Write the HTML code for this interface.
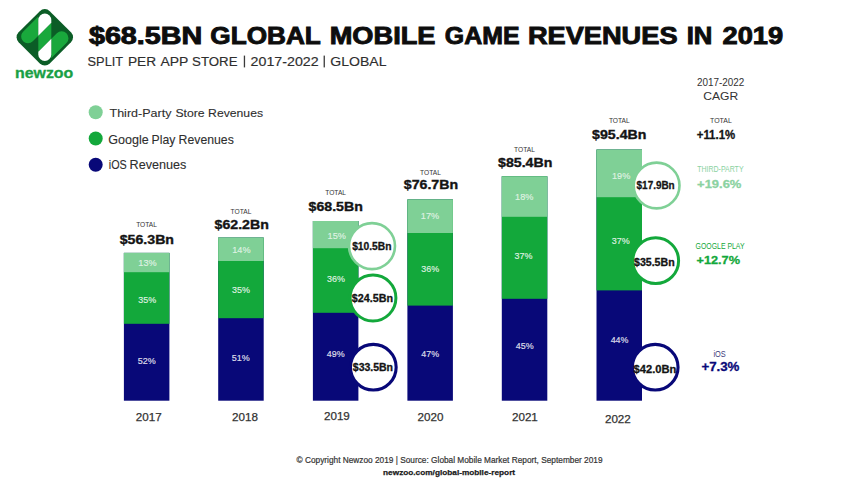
<!DOCTYPE html>
<html><head><meta charset="utf-8"><style>
html,body{margin:0;padding:0;background:#fff;}
body{width:842px;height:485px;position:relative;overflow:hidden;font-family:"Liberation Sans",sans-serif;}
.t{position:absolute;white-space:nowrap;line-height:1;transform-origin:0 0;}
.r{position:absolute;}
.c{position:absolute;border-radius:50%;}
.logo{position:absolute;left:0;top:0;}
.sh{position:absolute;left:0;top:0;}
</style></head><body>
<svg class="sh" width="842" height="485" viewBox="0 0 842 485"><rect x="123.90" y="252.90" width="45.50" height="147.80" fill="#080878"/>
<rect x="123.90" y="252.90" width="45.50" height="70.90" fill="#13a83b"/>
<rect x="123.90" y="252.90" width="45.50" height="19.30" fill="#7fd096"/>
<rect x="218.20" y="237.60" width="45.50" height="163.10" fill="#080878"/>
<rect x="218.20" y="237.60" width="45.50" height="80.60" fill="#13a83b"/>
<rect x="218.20" y="237.60" width="45.50" height="23.40" fill="#7fd096"/>
<rect x="312.90" y="221.00" width="45.50" height="179.70" fill="#080878"/>
<rect x="312.90" y="221.00" width="45.50" height="91.80" fill="#13a83b"/>
<rect x="312.90" y="221.00" width="45.50" height="27.20" fill="#7fd096"/>
<rect x="407.40" y="199.50" width="45.50" height="201.20" fill="#080878"/>
<rect x="407.40" y="199.50" width="45.50" height="106.10" fill="#13a83b"/>
<rect x="407.40" y="199.50" width="45.50" height="33.50" fill="#7fd096"/>
<rect x="501.80" y="176.30" width="45.50" height="224.40" fill="#080878"/>
<rect x="501.80" y="176.30" width="45.50" height="122.50" fill="#13a83b"/>
<rect x="501.80" y="176.30" width="45.50" height="40.50" fill="#7fd096"/>
<rect x="596.50" y="149.60" width="45.50" height="251.10" fill="#080878"/>
<rect x="596.50" y="149.60" width="45.50" height="140.80" fill="#13a83b"/>
<rect x="596.50" y="149.60" width="45.50" height="47.60" fill="#7fd096"/>
<circle cx="372.00" cy="246.10" r="23.00" fill="#fff" stroke="#7fd096" stroke-width="2.6"/>
<circle cx="373.00" cy="298.00" r="22.90" fill="#fff" stroke="#13a83b" stroke-width="3.0"/>
<circle cx="373.30" cy="367.20" r="22.85" fill="#fff" stroke="#080878" stroke-width="3.1"/>
<circle cx="656.60" cy="185.50" r="22.90" fill="#fff" stroke="#7fd096" stroke-width="2.6"/>
<circle cx="655.70" cy="260.70" r="22.90" fill="#fff" stroke="#13a83b" stroke-width="3.0"/>
<circle cx="655.20" cy="367.20" r="22.85" fill="#fff" stroke="#080878" stroke-width="3.1"/>
<rect x="243.80" y="55.60" width="1.30" height="11.80" fill="#3a3a3a"/>
<rect x="323.60" y="55.60" width="1.30" height="11.80" fill="#3a3a3a"/>
<circle cx="95.70" cy="112.20" r="7.00" fill="#7fd096"/>
<circle cx="95.70" cy="138.50" r="7.00" fill="#13a83b"/>
<circle cx="95.70" cy="164.70" r="7.00" fill="#080878"/></svg>
<svg class="logo" width="90" height="90" viewBox="0 0 90 90">
<defs>
<clipPath id="dia"><rect x="-19.6" y="-19.6" width="39.2" height="39.2" rx="5.2" transform="translate(44.8,37.3) rotate(45)"/></clipPath>
</defs>
<rect x="-22" y="-22" width="44" height="44" rx="7" fill="#0b5d26" transform="translate(44.8,37.3) rotate(45)"/>
<g clip-path="url(#dia)">
<g fill="#19a83c">
<path d="M38.3,10 L38.3,35.8 L32.75,41.35 A6.86,6.86 0 0 1 23.05,31.65 L38.3,16.4 Z"/>
<polygon points="38.3,35.8 51.3,22.8 51.3,38.8 38.3,51.8"/>
<path d="M51.3,64.6 L51.3,38.8 L56.85,33.25 A6.86,6.86 0 0 1 66.55,42.95 L51.3,58.2 Z"/>
</g>
<path d="M38.3,35.8 L38.3,20.1 A6.5,6.5 0 0 1 51.3,20.1 L51.3,22.8 Z" fill="#fff"/>
<path d="M38.3,51.8 L51.3,38.8 L51.3,54.5 A6.5,6.5 0 0 1 38.3,54.5 Z" fill="#fff"/>
</g>
</svg>
<div class="t" id="t0" style="left:138px;top:258px;font-size:9.462px;color:rgba(255,255,255,0.68);transform:translate(0.363px,0.290px) scaleX(0.9674) rotate(0.001deg);-webkit-text-stroke:0.2px rgba(255,255,255,0.68);">13%</div>
<div class="t" id="t1" style="left:138px;top:295px;font-size:9.462px;color:rgba(255,255,255,0.8);transform:translate(0.313px,0.290px) scaleX(0.9485) rotate(0.001deg);-webkit-text-stroke:0.2px rgba(255,255,255,0.8);">35%</div>
<div class="t" id="t2" style="left:137px;top:355px;font-size:9.462px;color:rgba(255,255,255,0.82);transform:translate(0.866px,0.755px) scaleX(0.9498) rotate(0.001deg);-webkit-text-stroke:0.2px rgba(255,255,255,0.82);">52%</div>
<div class="t" id="t3" style="left:136px;top:222px;font-size:6.882px;color:#333333;transform:translate(0.178px,0.196px) scaleX(0.9640) rotate(0.001deg);">TOTAL</div>
<div class="t" id="t4" style="left:119px;top:233px;font-size:12.258px;color:#141414;font-weight:bold;transform:translate(0.736px,0.780px) scaleX(1.1546) rotate(0.001deg);-webkit-text-stroke:0.35px #141414;">$56.3Bn</div>
<div class="t" id="t5" style="left:135px;top:411px;font-size:11.254px;color:#333333;transform:translate(0.842px,0.698px) scaleX(1.0361) rotate(0.001deg);-webkit-text-stroke:0.25px #333333;">2017</div>
<div class="t" id="t6" style="left:232px;top:245px;font-size:9.462px;color:rgba(255,255,255,0.68);transform:translate(0.263px,0.290px) scaleX(0.9674) rotate(0.001deg);-webkit-text-stroke:0.2px rgba(255,255,255,0.68);">14%</div>
<div class="t" id="t7" style="left:232px;top:285px;font-size:9.462px;color:rgba(255,255,255,0.8);transform:translate(0.013px,0.390px) scaleX(0.9485) rotate(0.001deg);-webkit-text-stroke:0.2px rgba(255,255,255,0.8);">35%</div>
<div class="t" id="t8" style="left:231px;top:352px;font-size:9.462px;color:rgba(255,255,255,0.82);transform:translate(0.866px,0.975px) scaleX(0.9498) rotate(0.001deg);-webkit-text-stroke:0.2px rgba(255,255,255,0.82);">51%</div>
<div class="t" id="t9" style="left:230px;top:208px;font-size:6.882px;color:#333333;transform:translate(0.602px,0.688px) scaleX(0.9640) rotate(0.001deg);">TOTAL</div>
<div class="t" id="t10" style="left:214px;top:219px;font-size:12.258px;color:#141414;font-weight:bold;transform:translate(0.562px,0.135px) scaleX(1.1546) rotate(0.001deg);-webkit-text-stroke:0.35px #141414;">$62.2Bn</div>
<div class="t" id="t11" style="left:231px;top:412px;font-size:11.254px;color:#333333;transform:translate(0.959px,0.295px) scaleX(1.0361) rotate(0.001deg);-webkit-text-stroke:0.25px #333333;">2018</div>
<div class="t" id="t12" style="left:327px;top:230px;font-size:9.462px;color:rgba(255,255,255,0.68);transform:translate(0.563px,0.590px) scaleX(0.9674) rotate(0.001deg);-webkit-text-stroke:0.2px rgba(255,255,255,0.68);">15%</div>
<div class="t" id="t13" style="left:327px;top:273px;font-size:9.462px;color:rgba(255,255,255,0.8);transform:translate(0.013px,0.790px) scaleX(0.9485) rotate(0.001deg);-webkit-text-stroke:0.2px rgba(255,255,255,0.8);">36%</div>
<div class="t" id="t14" style="left:326px;top:348px;font-size:9.462px;color:rgba(255,255,255,0.82);transform:translate(0.750px,0.990px) scaleX(0.9412) rotate(0.001deg);-webkit-text-stroke:0.2px rgba(255,255,255,0.82);">49%</div>
<div class="t" id="t15" style="left:325px;top:189px;font-size:6.882px;color:#333333;transform:translate(0.287px,0.905px) scaleX(0.9640) rotate(0.001deg);">TOTAL</div>
<div class="t" id="t16" style="left:308px;top:200px;font-size:12.258px;color:#141414;font-weight:bold;transform:translate(0.536px,0.692px) scaleX(1.1546) rotate(0.001deg);-webkit-text-stroke:0.35px #141414;">$68.5Bn</div>
<div class="t" id="t17" style="left:323px;top:411px;font-size:11.254px;color:#333333;transform:translate(0.922px,0.254px) scaleX(1.0361) rotate(0.001deg);-webkit-text-stroke:0.25px #333333;">2019</div>
<div class="t" id="t18" style="left:420px;top:211px;font-size:9.462px;color:rgba(255,255,255,0.68);transform:translate(0.863px,0.090px) scaleX(0.9674) rotate(0.001deg);-webkit-text-stroke:0.2px rgba(255,255,255,0.68);">17%</div>
<div class="t" id="t19" style="left:421px;top:263px;font-size:9.462px;color:rgba(255,255,255,0.8);transform:translate(0.213px,0.990px) scaleX(0.9485) rotate(0.001deg);-webkit-text-stroke:0.2px rgba(255,255,255,0.8);">36%</div>
<div class="t" id="t20" style="left:421px;top:348px;font-size:9.462px;color:rgba(255,255,255,0.82);transform:translate(0.350px,0.590px) scaleX(0.9412) rotate(0.001deg);-webkit-text-stroke:0.2px rgba(255,255,255,0.82);">47%</div>
<div class="t" id="t21" style="left:420px;top:170px;font-size:6.882px;color:#333333;transform:translate(0.072px,0.198px) scaleX(0.9640) rotate(0.001deg);">TOTAL</div>
<div class="t" id="t22" style="left:403px;top:179px;font-size:12.258px;color:#141414;font-weight:bold;transform:translate(0.793px,0.432px) scaleX(1.1546) rotate(0.001deg);-webkit-text-stroke:0.35px #141414;">$76.7Bn</div>
<div class="t" id="t23" style="left:417px;top:411px;font-size:11.254px;color:#333333;transform:translate(0.619px,0.848px) scaleX(1.0361) rotate(0.001deg);-webkit-text-stroke:0.25px #333333;">2020</div>
<div class="t" id="t24" style="left:515px;top:191px;font-size:9.462px;color:rgba(255,255,255,0.68);transform:translate(0.059px,0.841px) scaleX(0.9674) rotate(0.001deg);-webkit-text-stroke:0.2px rgba(255,255,255,0.68);">18%</div>
<div class="t" id="t25" style="left:514px;top:251px;font-size:9.462px;color:rgba(255,255,255,0.8);transform:translate(0.513px,0.290px) scaleX(0.9485) rotate(0.001deg);-webkit-text-stroke:0.2px rgba(255,255,255,0.8);">37%</div>
<div class="t" id="t26" style="left:515px;top:341px;font-size:9.462px;color:rgba(255,255,255,0.82);transform:translate(0.865px,0.473px) scaleX(0.9412) rotate(0.001deg);-webkit-text-stroke:0.2px rgba(255,255,255,0.82);">45%</div>
<div class="t" id="t27" style="left:514px;top:146px;font-size:6.882px;color:#333333;transform:translate(0.105px,0.591px) scaleX(0.9640) rotate(0.001deg);">TOTAL</div>
<div class="t" id="t28" style="left:498px;top:156px;font-size:12.258px;color:#141414;font-weight:bold;transform:translate(0.033px,0.888px) scaleX(1.1546) rotate(0.001deg);-webkit-text-stroke:0.35px #141414;">$85.4Bn</div>
<div class="t" id="t29" style="left:511px;top:412px;font-size:11.254px;color:#333333;transform:translate(0.927px,0.024px) scaleX(1.0361) rotate(0.001deg);-webkit-text-stroke:0.25px #333333;">2021</div>
<div class="t" id="t30" style="left:611px;top:171px;font-size:9.462px;color:rgba(255,255,255,0.68);transform:translate(0.963px,0.390px) scaleX(0.9674) rotate(0.001deg);-webkit-text-stroke:0.2px rgba(255,255,255,0.68);">19%</div>
<div class="t" id="t31" style="left:611px;top:236px;font-size:9.462px;color:rgba(255,255,255,0.8);transform:translate(0.813px,0.190px) scaleX(0.9485) rotate(0.001deg);-webkit-text-stroke:0.2px rgba(255,255,255,0.8);">37%</div>
<div class="t" id="t32" style="left:610px;top:335px;font-size:9.462px;color:rgba(255,255,255,0.82);transform:translate(0.650px,0.290px) scaleX(0.9412) rotate(0.001deg);-webkit-text-stroke:0.2px rgba(255,255,255,0.82);">44%</div>
<div class="t" id="t33" style="left:608px;top:117px;font-size:6.882px;color:#333333;transform:translate(0.898px,0.721px) scaleX(0.9640) rotate(0.001deg);">TOTAL</div>
<div class="t" id="t34" style="left:592px;top:128px;font-size:12.258px;color:#141414;font-weight:bold;transform:translate(0.122px,0.904px) scaleX(1.1546) rotate(0.001deg);-webkit-text-stroke:0.35px #141414;">$95.4Bn</div>
<div class="t" id="t35" style="left:604px;top:414px;font-size:11.254px;color:#333333;transform:translate(0.909px,0.281px) scaleX(1.0361) rotate(0.001deg);-webkit-text-stroke:0.25px #333333;">2022</div>
<div class="t" id="t36" style="left:352px;top:240px;font-size:10.761px;color:#141414;font-weight:bold;transform:translate(0.168px,0.681px) scaleX(0.9527) rotate(0.001deg);-webkit-text-stroke:0.3px #141414;">$10.5Bn</div>
<div class="t" id="t37" style="left:351px;top:292px;font-size:10.589px;color:#141414;font-weight:bold;transform:translate(0.819px,0.673px) scaleX(1.0135) rotate(0.001deg);-webkit-text-stroke:0.3px #141414;">$24.5Bn</div>
<div class="t" id="t38" style="left:352px;top:362px;font-size:10.237px;color:#141414;font-weight:bold;transform:translate(0.800px,0.907px) scaleX(1.0260) rotate(0.001deg);-webkit-text-stroke:0.3px #141414;">$33.5Bn</div>
<div class="t" id="t39" style="left:636px;top:180px;font-size:10.731px;color:#141414;font-weight:bold;transform:translate(0.586px,0.403px) scaleX(0.9266) rotate(0.001deg);-webkit-text-stroke:0.3px #141414;">$17.9Bn</div>
<div class="t" id="t40" style="left:633px;top:257px;font-size:10.109px;color:#141414;font-weight:bold;transform:translate(1.000px,0.590px) scaleX(1.0495) rotate(0.001deg);-webkit-text-stroke:0.3px #141414;">$35.5Bn</div>
<div class="t" id="t41" style="left:633px;top:364px;font-size:10.996px;color:#141414;font-weight:bold;transform:translate(0.581px,0.062px) scaleX(1.0124) rotate(0.001deg);-webkit-text-stroke:0.3px #141414;">$42.0Bn</div>
<div class="t" id="t42" style="left:88px;top:23px;font-size:23.834px;color:#0d0d0d;font-weight:bold;transform:translate(0.912px,0.875px) scaleX(1.2059) rotate(0.001deg);-webkit-text-stroke:0.9px #0d0d0d;">$68.5BN</div>
<div class="t" id="t43" style="left:210px;top:23px;font-size:23.834px;color:#0d0d0d;font-weight:bold;transform:translate(0.296px,0.875px) scaleX(1.0990) rotate(0.001deg);-webkit-text-stroke:0.9px #0d0d0d;">GLOBAL</div>
<div class="t" id="t44" style="left:329px;top:23px;font-size:23.834px;color:#0d0d0d;font-weight:bold;transform:translate(0.674px,0.875px) scaleX(1.1418) rotate(0.001deg);-webkit-text-stroke:0.9px #0d0d0d;">MOBILE</div>
<div class="t" id="t45" style="left:444px;top:23px;font-size:23.834px;color:#0d0d0d;font-weight:bold;transform:translate(0.871px,0.875px) scaleX(1.0444) rotate(0.001deg);-webkit-text-stroke:0.9px #0d0d0d;">GAME</div>
<div class="t" id="t46" style="left:527px;top:23px;font-size:23.834px;color:#0d0d0d;font-weight:bold;transform:translate(0.927px,0.875px) scaleX(1.1412) rotate(0.001deg);-webkit-text-stroke:0.9px #0d0d0d;">REVENUES</div>
<div class="t" id="t47" style="left:686px;top:23px;font-size:23.834px;color:#0d0d0d;font-weight:bold;transform:translate(0.736px,0.875px) scaleX(1.0784) rotate(0.001deg);-webkit-text-stroke:0.9px #0d0d0d;">IN</div>
<div class="t" id="t48" style="left:722px;top:23px;font-size:23.834px;color:#0d0d0d;font-weight:bold;transform:translate(0.504px,0.875px) scaleX(1.1437) rotate(0.001deg);-webkit-text-stroke:0.9px #0d0d0d;">2019</div>
<div class="t" id="t49" style="left:87px;top:55px;font-size:12.522px;color:#2e2e2e;transform:translate(0.581px,0.555px) scaleX(1.0223) rotate(0.001deg);-webkit-text-stroke:0.15px #2e2e2e;">SPLIT</div>
<div class="t" id="t50" style="left:127px;top:55px;font-size:12.522px;color:#2e2e2e;transform:translate(0.882px,0.555px) scaleX(1.0930) rotate(0.001deg);-webkit-text-stroke:0.15px #2e2e2e;">PER</div>
<div class="t" id="t51" style="left:160px;top:55px;font-size:12.522px;color:#2e2e2e;transform:translate(0.424px,0.555px) scaleX(1.1098) rotate(0.001deg);-webkit-text-stroke:0.15px #2e2e2e;">APP</div>
<div class="t" id="t52" style="left:192px;top:55px;font-size:12.522px;color:#2e2e2e;transform:translate(0.088px,0.555px) scaleX(1.0592) rotate(0.001deg);-webkit-text-stroke:0.15px #2e2e2e;">STORE</div>
<div class="t" id="t53" style="left:250px;top:55px;font-size:12.522px;color:#2e2e2e;transform:translate(0.563px,0.555px) scaleX(1.1371) rotate(0.001deg);-webkit-text-stroke:0.15px #2e2e2e;">2017-2022</div>
<div class="t" id="t54" style="left:330px;top:55px;font-size:12.522px;color:#2e2e2e;transform:translate(0.326px,0.555px) scaleX(1.1210) rotate(0.001deg);-webkit-text-stroke:0.15px #2e2e2e;">GLOBAL</div>
<div class="t" id="t55" style="left:109px;top:107px;font-size:11.343px;color:#2e2e2e;transform:translate(0.499px,0.713px) scaleX(1.1062) rotate(0.001deg);-webkit-text-stroke:0.1px #2e2e2e;">Third-Party</div>
<div class="t" id="t56" style="left:175px;top:107px;font-size:11.343px;color:#2e2e2e;transform:translate(0.440px,0.713px) scaleX(1.0796) rotate(0.001deg);-webkit-text-stroke:0.1px #2e2e2e;">Store</div>
<div class="t" id="t57" style="left:208px;top:107px;font-size:11.343px;color:#2e2e2e;transform:translate(0.117px,0.713px) scaleX(1.0765) rotate(0.001deg);-webkit-text-stroke:0.1px #2e2e2e;">Revenues</div>
<div class="t" id="t58" style="left:108px;top:133px;font-size:11.992px;color:#2e2e2e;transform:translate(0.146px,0.733px) scaleX(1.0482) rotate(0.001deg);-webkit-text-stroke:0.1px #2e2e2e;">Google</div>
<div class="t" id="t59" style="left:151px;top:133px;font-size:11.992px;color:#2e2e2e;transform:translate(0.608px,0.733px) scaleX(1.0180) rotate(0.001deg);-webkit-text-stroke:0.1px #2e2e2e;">Play</div>
<div class="t" id="t60" style="left:178px;top:133px;font-size:11.992px;color:#2e2e2e;transform:translate(0.604px,0.733px) scaleX(1.0221) rotate(0.001deg);-webkit-text-stroke:0.1px #2e2e2e;">Revenues</div>
<div class="t" id="t61" style="left:108px;top:158px;font-size:12.401px;color:#2e2e2e;transform:translate(0.803px,0.648px) scaleX(0.8714) rotate(0.001deg);-webkit-text-stroke:0.1px #2e2e2e;">iOS</div>
<div class="t" id="t62" style="left:129px;top:158px;font-size:12.401px;color:#2e2e2e;transform:translate(0.549px,0.648px) scaleX(1.0187) rotate(0.001deg);-webkit-text-stroke:0.1px #2e2e2e;">Revenues</div>
<div class="t" id="t63" style="left:696px;top:76px;font-size:10.899px;color:#333333;transform:translate(0.946px,0.840px) scaleX(0.9111) rotate(0.001deg);">2017-2022</div>
<div class="t" id="t64" style="left:703px;top:90px;font-size:11.437px;color:#333333;transform:translate(0.232px,0.614px) scaleX(1.0606) rotate(0.001deg);">CAGR</div>
<div class="t" id="t65" style="left:710px;top:117px;font-size:7.379px;color:#333333;transform:translate(0.014px,0.330px) scaleX(0.9449) rotate(0.001deg);">TOTAL</div>
<div class="t" id="t66" style="left:696px;top:129px;font-size:12.059px;color:#141414;font-weight:bold;transform:translate(0.740px,0.251px) scaleX(0.9475) rotate(0.001deg);-webkit-text-stroke:0.3px #141414;">+11.1%</div>
<div class="t" id="t67" style="left:697px;top:165px;font-size:8.508px;color:#8bd2a1;transform:translate(0.243px,0.191px) scaleX(0.8217) rotate(0.001deg);">THIRD-PARTY</div>
<div class="t" id="t68" style="left:697px;top:178px;font-size:11.527px;color:#8bd2a1;font-weight:bold;transform:translate(0.071px,0.891px) scaleX(1.1243) rotate(0.001deg);-webkit-text-stroke:0.3px #8bd2a1;">+19.6%</div>
<div class="t" id="t69" style="left:695px;top:242px;font-size:8.471px;color:#13a83b;transform:translate(0.576px,0.315px) scaleX(0.8152) rotate(0.001deg);">GOOGLE PLAY</div>
<div class="t" id="t70" style="left:696px;top:254px;font-size:11.517px;color:#13a83b;font-weight:bold;transform:translate(0.439px,0.680px) scaleX(1.1073) rotate(0.001deg);-webkit-text-stroke:0.3px #13a83b;">+12.7%</div>
<div class="t" id="t71" style="left:713px;top:350px;font-size:8.610px;color:#3a3a7a;transform:translate(0.436px,0.178px) scaleX(0.8612) rotate(0.001deg);">iOS</div>
<div class="t" id="t72" style="left:701px;top:361px;font-size:12.779px;color:#080878;font-weight:bold;transform:translate(0.387px,0.239px) scaleX(1.0410) rotate(0.001deg);-webkit-text-stroke:0.3px #080878;">+7.3%</div>
<div class="t" id="t73" style="left:296px;top:455px;font-size:8.922px;color:#333;transform:translate(0.552px,0.604px) scaleX(0.9309) rotate(0.001deg);-webkit-text-stroke:0.2px #333;">© Copyright Newzoo 2019 | Source: Global Mobile Market Report, September 2019</div>
<div class="t" id="t74" style="left:383px;top:468px;font-size:7.504px;color:#1a1a1a;font-weight:bold;transform:translate(0.084px,0.872px) scaleX(1.1000) rotate(0.001deg);-webkit-text-stroke:0.25px #1a1a1a;">newzoo.com/global-mobile-report</div>
<div class="t" id="t75" style="left:15px;top:65px;font-size:14.017px;color:#1a9f45;font-weight:bold;transform:translate(0.029px,0.902px) scaleX(1.1349) rotate(0.001deg);-webkit-text-stroke:0.3px #1a9f45;">newzoo</div>
</body></html>
